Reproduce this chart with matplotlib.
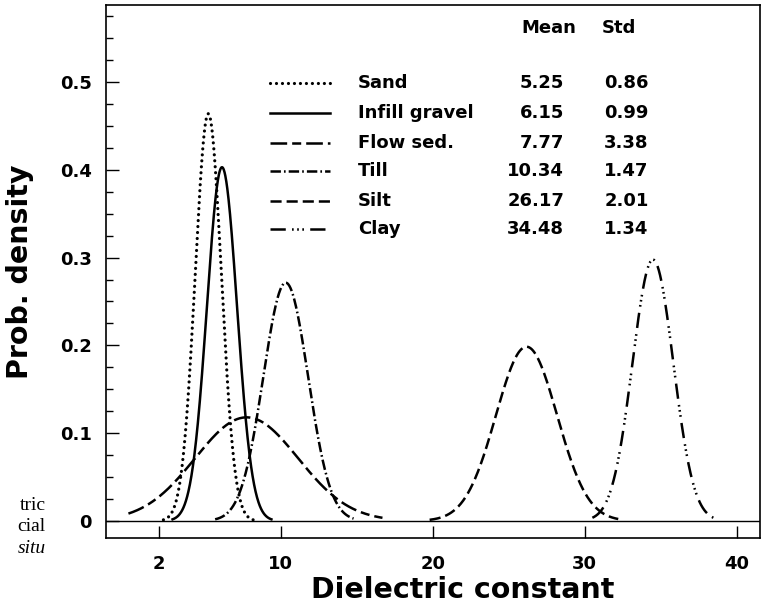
import numpy as np
import matplotlib.pyplot as plt
from matplotlib.ticker import MultipleLocator, FixedLocator

# Normal fits of the dielectric constant per material
materials = ['Sand', 'Infill gravel', 'Flow sed.', 'Till', 'Silt', 'Clay']
means = [5.25, 6.15, 7.77, 10.34, 26.17, 34.48]
stds = [0.86, 0.99, 3.38, 1.47, 2.01, 1.34]
# range over which each curve is drawn
x_lo = [2.3, 2.9, 0.0, 5.7, 19.8, 30.5]
x_hi = [8.2, 9.4, 16.7, 14.8, 32.2, 38.5]

xticks = [2, 10, 20, 30, 40]
yticks = [0, 0.1, 0.2, 0.3, 0.4, 0.5]

plt.rcParams['font.family'] = ['DejaVu Sans']
plt.rcParams['font.weight'] = 'bold'
plt.rcParams['lines.scale_dashes'] = False

styles = [
    (0, (0.01, 4.3)),                               # dotted
    '-',                                            # solid
    (0, (12, 3.6, 6.5, 3.6)),                       # long-short dash
    (0, (7.5, 2.2, 1.2, 2.2)),                      # dash-dot
    (0, (8, 3.6)),                                  # dashed
    (0, (11, 4.5, 1.2, 2.5, 1.2, 2.5, 1.2, 4.5)),   # dash-dot-dot-dot
]
caps = ['round', 'butt', 'butt', 'butt', 'butt', 'butt']
widths = [2.3, 1.8, 1.8, 1.8, 1.8, 1.8]

fig = plt.figure(figsize=(7.62, 6.07), dpi=100)
ax = fig.add_axes([0.139, 0.1137, 0.858, 0.878])

for m, s, lo, hi, ls, cp, lw in zip(means, stds, x_lo, x_hi, styles, caps, widths):
    x = np.linspace(lo, hi, 400)
    y = np.exp(-0.5 * ((x - m) / s) ** 2) / (s * np.sqrt(2 * np.pi))
    ax.plot(x, y, color='black', lw=lw, linestyle=ls, dash_capstyle=cp)

ax.axhline(0, color='black', lw=1.0)
ax.set_xlim(-1.48, 41.5)
ax.set_ylim(-0.0194, 0.5877)

ax.xaxis.set_major_locator(FixedLocator(xticks))
ax.yaxis.set_major_locator(FixedLocator(yticks))
ax.yaxis.set_minor_locator(MultipleLocator(0.025))
ax.set_xticklabels([str(t) for t in xticks])
ax.set_yticklabels(['0' if t == 0 else f'{t:.1f}' for t in yticks])
ax.tick_params(axis='both', which='major', direction='in', length=9, width=1,
               labelsize=13)
ax.tick_params(axis='y', which='minor', direction='in', length=5, width=1)
ax.tick_params(axis='y', pad=10)
ax.tick_params(axis='x', pad=12)
for sp in ax.spines.values():
    sp.set_linewidth(1.2)

ax.set_xlabel('Dielectric constant', fontsize=20.5, fontweight='bold')
ax.xaxis.set_label_coords(0.545, -0.072)
ax.set_ylabel('Prob. density', fontsize=20.5, fontweight='bold', labelpad=19)

# key table
fs = 13
ax.text(0.677, 0.957, 'Mean', transform=ax.transAxes, ha='center',
        va='center', fontsize=fs)
ax.text(0.785, 0.957, 'Std', transform=ax.transAxes, ha='center',
        va='center', fontsize=fs)
rows_y = [0.854, 0.798, 0.742, 0.688, 0.633, 0.580]
for name, m, s, ls, cp, lw, ry in zip(materials, means, stds, styles, caps,
                                      widths, rows_y):
    ax.plot([0.251, 0.342], [ry, ry], transform=ax.transAxes, color='black',
            lw=lw, linestyle=ls, dash_capstyle=cp)
    ax.text(0.385, ry, name, transform=ax.transAxes, va='center', fontsize=fs)
    ax.text(0.701, ry, f'{m:.2f}', transform=ax.transAxes, va='center',
            ha='right', fontsize=fs)
    ax.text(0.830, ry, f'{s:.2f}', transform=ax.transAxes, va='center',
            ha='right', fontsize=fs)

# fragments of the surrounding page caption
for txt, yy, st in [('tric', 0.167, 'normal'), ('cial', 0.132, 'normal'),
                    ('situ', 0.097, 'italic')]:
    fig.text(0.060, yy, txt, ha='right', va='center', fontsize=14,
             family='Liberation Serif', fontweight='normal', style=st)

fig.savefig('out.png', dpi=100)
